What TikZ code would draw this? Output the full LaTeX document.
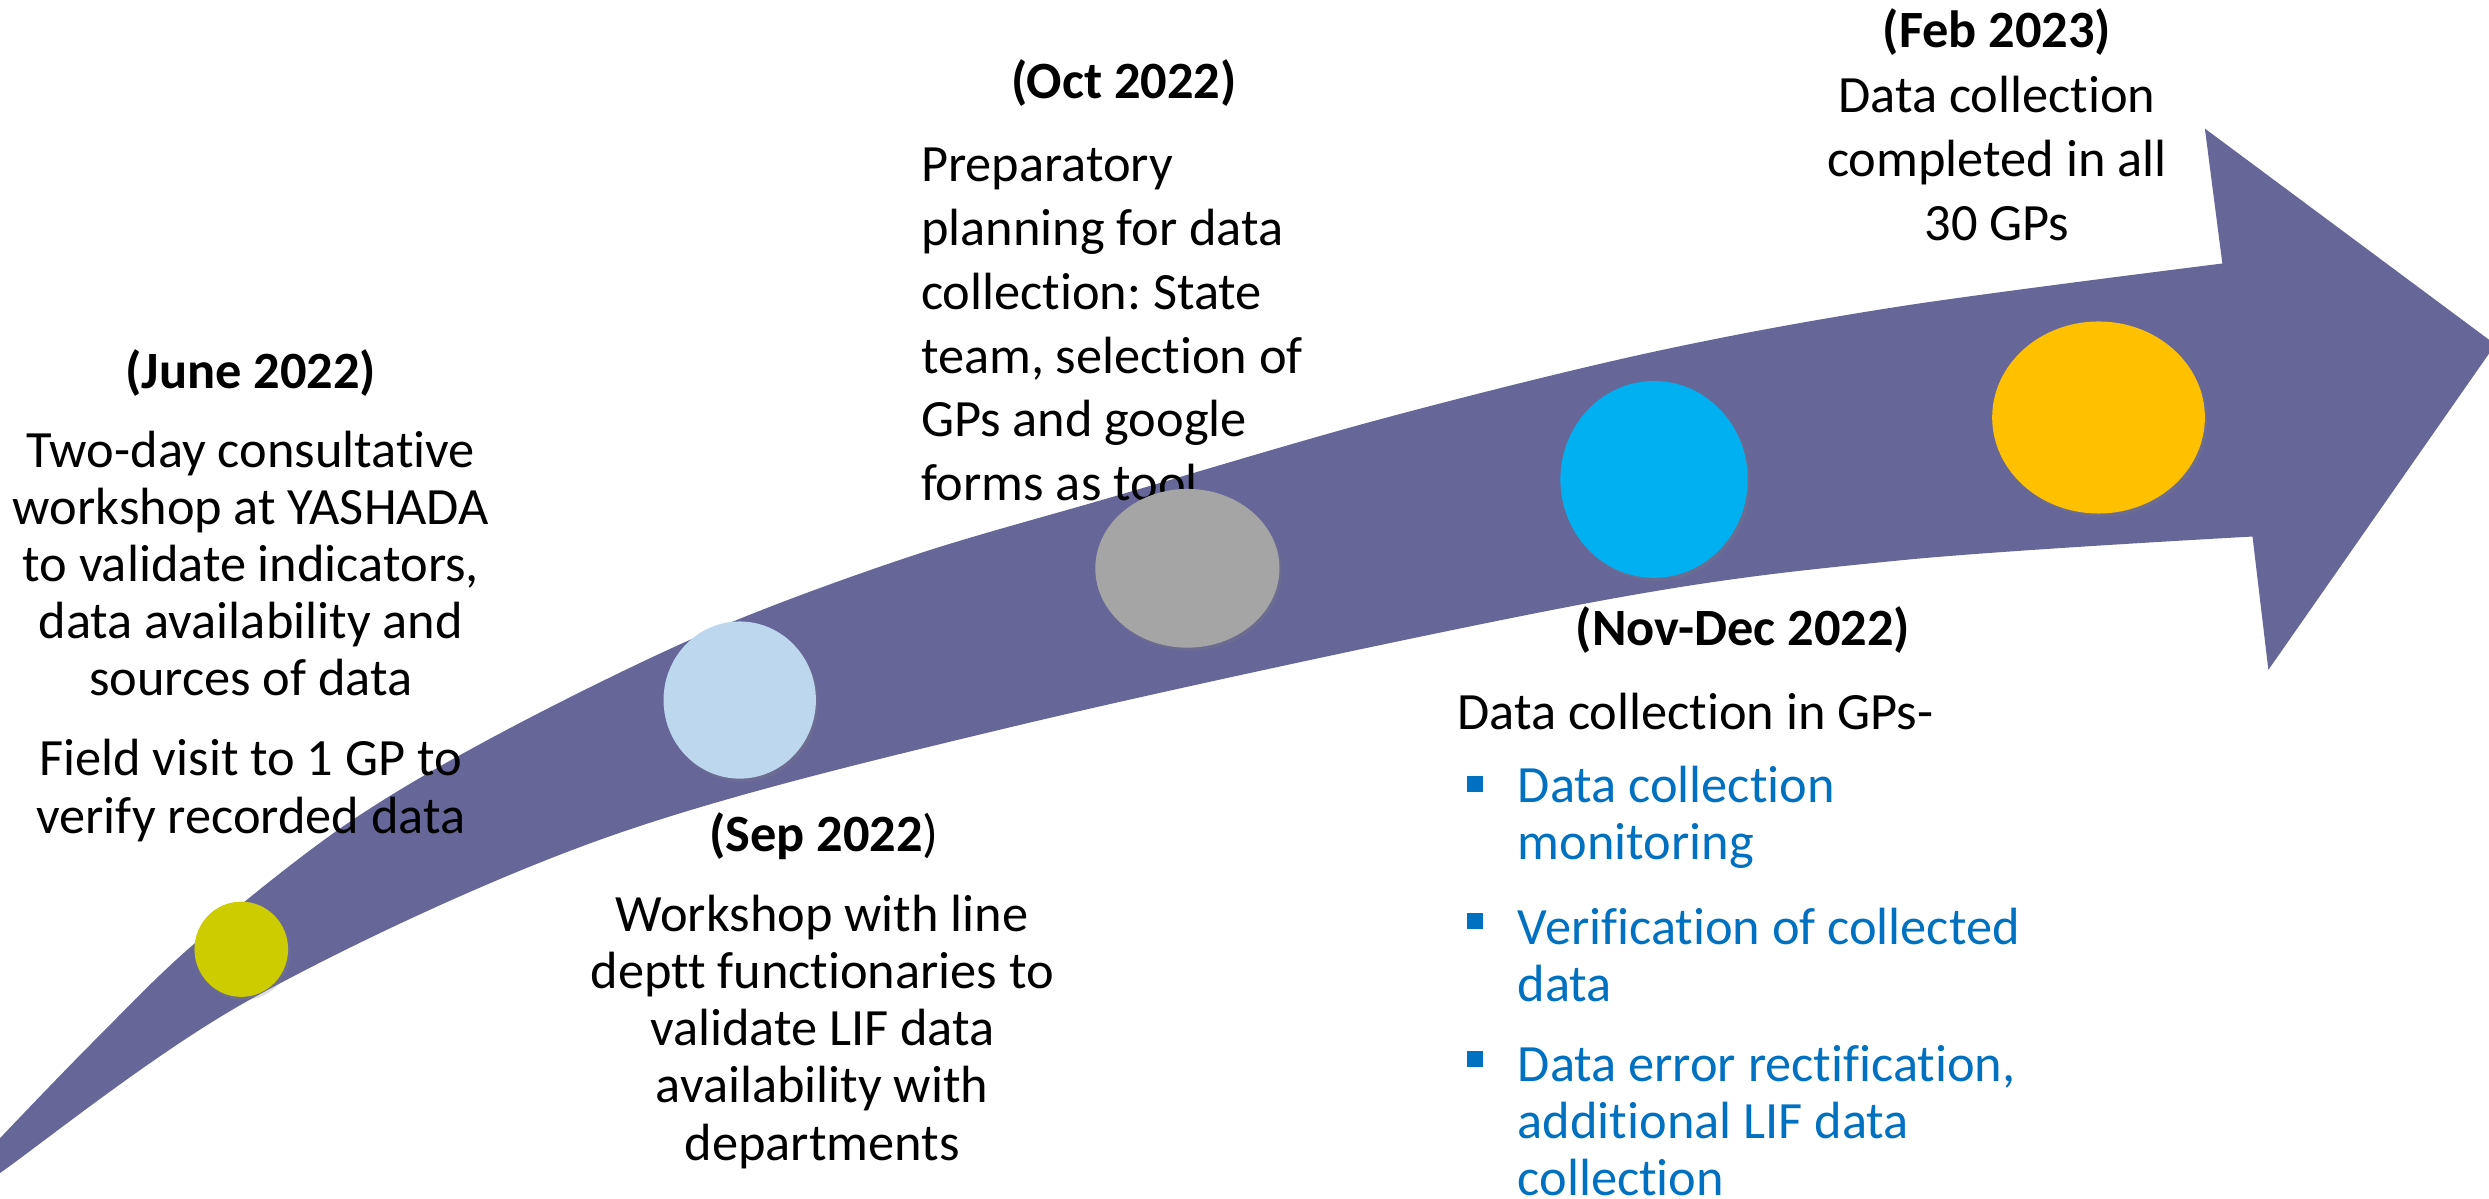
\documentclass[tikz,border=0pt]{standalone}
\usepackage{fontspec}
\setmainfont{Carlito}[RawFeature={-liga;-clig;-calt;-dlig}]
\usetikzlibrary{shapes.geometric,shadows}
\definecolor{arrowc}{RGB}{102,102,153}
\definecolor{cyel}{RGB}{204,204,0}
\definecolor{clblue}{RGB}{189,215,238}
\definecolor{cgray}{RGB}{165,165,165}
\definecolor{ccyan}{RGB}{0,176,240}
\definecolor{corange}{RGB}{255,192,0}
\definecolor{bultext}{RGB}{0,112,192}
\frenchspacing
\begin{document}
\begin{tikzpicture}[x=1pt,y=-1pt,
  txt/.style={inner sep=0pt, font=\fontsize{33}{36}\selectfont, align=center},
  txtw/.style={inner sep=0pt, font=\fontsize{33}{40.2}\selectfont, align=center},
  head/.style={inner sep=0pt, font=\fontsize{33}{36}\selectfont\bfseries},
  blue/.style={inner sep=0pt, font=\fontsize{33}{36}\selectfont, align=left, text=bultext, anchor=west},
  bul/.style={rectangle, fill=bultext, minimum size=10pt, inner sep=0pt},
  dot/.style={ellipse, inner sep=0pt, draw=none, drop shadow={shadow xshift=1.5pt, shadow yshift=-2pt, opacity=0.25}}]
\useasboundingbox (0,0) rectangle (1568,755);
\clip (0,0) rectangle (1568,755);
\fill[white] (0,0) rectangle (1568,755);
% arrow
\fill[arrowc] plot[smooth, tension=0.55] coordinates {(-40,760) (0,717) (60,655) (123,594) (217,520) (315,462) (444,399) (572,351) (701,313) (870,264) (1040,222) (1197,193) (1400,166)}
  -- (1389,81) -- (1572,217) -- (1429,422) -- (1419,338)
  -- plot[smooth, tension=0.55] coordinates {(1419,338) (1197,353) (1000,380) (637,458) (378,529) (157,630) (0,739) (-40,770)}
  -- cycle;
% June
\node[head] (junh) at (158,235) {(June 2022)};
\node[txt] (junb) at (158,355) {Two-day consultative\\workshop at YASHADA\\to validate indicators,\\data availability and\\sources of data};
\node[txt] (field) at (158,498) {Field visit to 1 GP to\\verify recorded data};
% Sep
\node[head] (seph) at (519,527) {\textbf{(Sep 2022}\mdseries)};
\node[txt] (sepb) at (518,650) {Workshop with line\\deptt functionaries to\\validate LIF data\\availability with\\departments};
% Oct
\node[head] (octh) at (708,52) {(Oct 2022)};
\node[txtw, align=left, anchor=west] (octb) at (580,204.5) {Preparatory\\planning for data\\collection: State\\team, selection of\\GPs and google\\forms as tool};
% Feb
\node[head] (febh) at (1258,20) {(Feb 2023)};
\node[txtw] (febb) at (1258,100) {Data collection\\completed in all\\30 GPs};
% Nov-Dec
\node[head] (novh) at (1098,397) {(Nov-Dec 2022)};
\node[txt, anchor=west] (novb) at (918,448) {Data collection in GPs-};
\node[bul] (b1) at (929,494) {};
\node[bul] (b2) at (929,580) {};
\node[bul] (b3) at (929,667) {};
\node[blue] (i1) at (956,515) {Data collection\\monitoring};
\node[blue] (i2) at (956,601.5) {Verification of collected\\data};
\node[blue] (i3) at (956,706) {Data error rectification,\\additional LIF data\\collection};
% milestones
\node[dot, fill=cyel, minimum width=59pt, minimum height=60pt] (m1) at (152,598) {};
\node[dot, fill=clblue, minimum width=96pt, minimum height=99pt] (m2) at (466,441) {};
\node[dot, fill=cgray, minimum width=116pt, minimum height=100pt] (m3) at (748,358) {};
\node[dot, fill=ccyan, minimum width=118pt, minimum height=124pt] (m4) at (1042,302) {};
\node[dot, fill=corange, minimum width=134pt, minimum height=121pt] (m5) at (1322,263) {};
\end{tikzpicture}
\end{document}
